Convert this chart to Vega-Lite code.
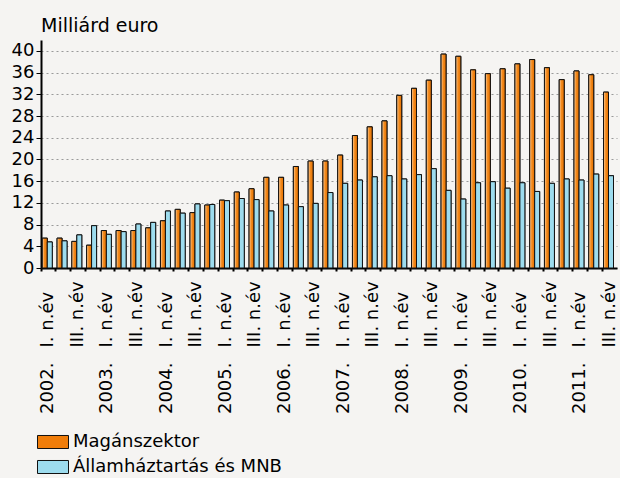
{
  "$schema": "https://vega.github.io/schema/vega-lite/v6.json",
  "width": 576,
  "height": 228,
  "autosize": {"type": "none"},
  "padding": {"left": 41, "top": 40, "right": 3, "bottom": 210},
  "background": "#f5f4f2",
  "config": {
    "view": {"stroke": null},
    "font": "DejaVu Sans",
    "axis": {"labelFont": "DejaVu Sans", "labelColor": "#000", "titleColor": "#000"},
    "legend": {"labelFont": "DejaVu Sans"}
  },
  "title": {
    "text": "Milliárd euro",
    "anchor": "start",
    "frame": "group",
    "fontSize": 19,
    "fontWeight": "normal",
    "color": "#000",
    "font": "DejaVu Sans",
    "offset": 4
  },
  "data": {
    "values": [
      {"q": "2002-1", "Magánszektor": 5.5, "Államháztartás és MNB": 4.8},
      {"q": "2002-2", "Magánszektor": 5.5, "Államháztartás és MNB": 5.0},
      {"q": "2002-3", "Magánszektor": 4.9, "Államháztartás és MNB": 6.1},
      {"q": "2002-4", "Magánszektor": 4.2, "Államháztartás és MNB": 7.8},
      {"q": "2003-1", "Magánszektor": 6.9, "Államháztartás és MNB": 6.2},
      {"q": "2003-2", "Magánszektor": 6.9, "Államháztartás és MNB": 6.7},
      {"q": "2003-3", "Magánszektor": 6.9, "Államháztartás és MNB": 8.1},
      {"q": "2003-4", "Magánszektor": 7.4, "Államháztartás és MNB": 8.4},
      {"q": "2004-1", "Magánszektor": 8.7, "Államháztartás és MNB": 10.5},
      {"q": "2004-2", "Magánszektor": 10.8, "Államháztartás és MNB": 10.1},
      {"q": "2004-3", "Magánszektor": 10.2, "Államháztartás és MNB": 11.8},
      {"q": "2004-4", "Magánszektor": 11.6, "Államháztartás és MNB": 11.7},
      {"q": "2005-1", "Magánszektor": 12.5, "Államháztartás és MNB": 12.4},
      {"q": "2005-2", "Magánszektor": 14.0, "Államháztartás és MNB": 12.8},
      {"q": "2005-3", "Magánszektor": 14.6, "Államháztartás és MNB": 12.6},
      {"q": "2005-4", "Magánszektor": 16.7, "Államháztartás és MNB": 10.5},
      {"q": "2006-1", "Magánszektor": 16.7, "Államháztartás és MNB": 11.6},
      {"q": "2006-2", "Magánszektor": 18.7, "Államháztartás és MNB": 11.3},
      {"q": "2006-3", "Magánszektor": 19.7, "Államháztartás és MNB": 11.9},
      {"q": "2006-4", "Magánszektor": 19.7, "Államháztartás és MNB": 13.9},
      {"q": "2007-1", "Magánszektor": 20.8, "Államháztartás és MNB": 15.6},
      {"q": "2007-2", "Magánszektor": 24.4, "Államháztartás és MNB": 16.2},
      {"q": "2007-3", "Magánszektor": 26.0, "Államháztartás és MNB": 16.8},
      {"q": "2007-4", "Magánszektor": 27.1, "Államháztartás és MNB": 17.0},
      {"q": "2008-1", "Magánszektor": 31.8, "Államháztartás és MNB": 16.4},
      {"q": "2008-2", "Magánszektor": 33.1, "Államháztartás és MNB": 17.2},
      {"q": "2008-3", "Magánszektor": 34.6, "Államháztartás és MNB": 18.3},
      {"q": "2008-4", "Magánszektor": 39.4, "Államháztartás és MNB": 14.3},
      {"q": "2009-1", "Magánszektor": 39.0, "Államháztartás és MNB": 12.7},
      {"q": "2009-2", "Magánszektor": 36.5, "Államháztartás és MNB": 15.7},
      {"q": "2009-3", "Magánszektor": 35.8, "Államháztartás és MNB": 15.9},
      {"q": "2009-4", "Magánszektor": 36.7, "Államháztartás és MNB": 14.7},
      {"q": "2010-1", "Magánszektor": 37.6, "Államháztartás és MNB": 15.7},
      {"q": "2010-2", "Magánszektor": 38.4, "Államháztartás és MNB": 14.1},
      {"q": "2010-3", "Magánszektor": 36.9, "Államháztartás és MNB": 15.6},
      {"q": "2010-4", "Magánszektor": 34.7, "Államháztartás és MNB": 16.4},
      {"q": "2011-1", "Magánszektor": 36.3, "Államháztartás és MNB": 16.2},
      {"q": "2011-2", "Magánszektor": 35.6, "Államháztartás és MNB": 17.3},
      {"q": "2011-3", "Magánszektor": 32.4, "Államháztartás és MNB": 17.0}
    ]
  },
  "transform": [
    {"fold": ["Magánszektor", "Államháztartás és MNB"], "as": ["s", "v"]}
  ],
  "encoding": {
    "xOffset": {
      "field": "s", "type": "nominal",
      "scale": {"domain": ["Magánszektor", "Államháztartás és MNB"], "paddingInner": 0, "paddingOuter": 0.48, "align": 0.27}
    },
    "y": {
      "field": "v", "type": "quantitative",
      "scale": {"domain": [0, 42], "nice": false},
      "axis": {
        "title": null, "values": [0, 4, 8, 12, 16, 20, 24, 28, 32, 36, 40],
        "labelFontSize": 18, "labelPadding": 2, "tickSize": 5, "tickColor": "#000",
        "labelOverlap": false, "labelFlush": false,
        "domainColor": "#000", "domainWidth": 2,
        "grid": true, "gridColor": "#9a9a9a", "gridDash": [2, 3], "gridWidth": 1.2
      }
    }
  },
  "layer": [
    {
      "mark": {"type": "bar", "stroke": "#111", "strokeWidth": 1},
      "encoding": {
        "x": {
          "field": "q", "type": "nominal", "sort": null,
          "scale": {"paddingInner": 0, "paddingOuter": 0},
          "axis": {
            "orient": "bottom",
            "title": null, "labels": false, "bandPosition": 0,
            "ticks": true, "tickSize": 3, "tickColor": "#000", "tickWidth": 2,
            "domain": true, "domainColor": "#000", "domainWidth": 2, "grid": false
          }
        },
        "color": {
          "field": "s", "type": "nominal",
          "scale": {"domain": ["Magánszektor", "Államháztartás és MNB"], "range": ["#f07d0a", "#9ddcee"]},
          "legend": {
            "title": null, "orient": "none", "legendX": -4, "legendY": 386,
            "direction": "vertical",
            "symbolType": "M-1,-0.42H1V0.42H-1Z", "symbolSize": 961,
            "symbolStrokeColor": "#111", "symbolStrokeWidth": 1, "symbolOpacity": 1,
            "labelFontSize": 18, "labelColor": "#000", "labelOffset": 4, "rowPadding": -3,
            "labelLimit": 0
          }
        }
      }
    },
    {
      "transform": [{"filter": "datum.s == 'Magánszektor'"}],
      "mark": {
        "type": "bar", "stroke": "#111", "strokeWidth": 1,
        "fill": {"gradient": "linear", "x1": 0, "x2": 1, "y1": 0, "y2": 0,
          "stops": [{"offset": 0, "color": "#fdd2a6"}, {"offset": 0.45, "color": "#f28a1c"}, {"offset": 1, "color": "#e67000"}]}
      },
      "encoding": {
        "x": {
          "field": "q", "type": "nominal", "sort": null,
          "axis": {
            "orient": "bottom",
            "title": null, "ticks": false, "domain": false, "grid": false,
            "labelAngle": 270, "labelAlign": "left", "labelBaseline": "middle",
            "labelPadding": 79, "labelFontSize": 18, "labelOverlap": false,
            "labelExpr": "slice(datum.value, 5) == '1' ? 'I. n.év' : (slice(datum.value, 5) == '3' ? 'III. n.év' : '')"
          }
        }
      }
    },
    {
      "transform": [{"filter": "datum.s == 'Államháztartás és MNB'"}],
      "mark": {"type": "bar", "stroke": "#111", "strokeWidth": 1, "fill": "#9ddcee"},
      "encoding": {
        "x": {
          "field": "q", "type": "nominal", "sort": null,
          "axis": {
            "orient": "bottom",
            "title": null, "ticks": false, "domain": false, "grid": false,
            "labelAngle": 270, "labelAlign": "right", "labelBaseline": "middle",
            "labelPadding": 94, "labelFontSize": 18, "labelOverlap": false,
            "labelExpr": "slice(datum.value, 5) == '1' ? slice(datum.value, 0, 4) + '.' : ''"
          }
        }
      }
    }
  ],
  "resolve": {"axis": {"x": "independent"}}
}
